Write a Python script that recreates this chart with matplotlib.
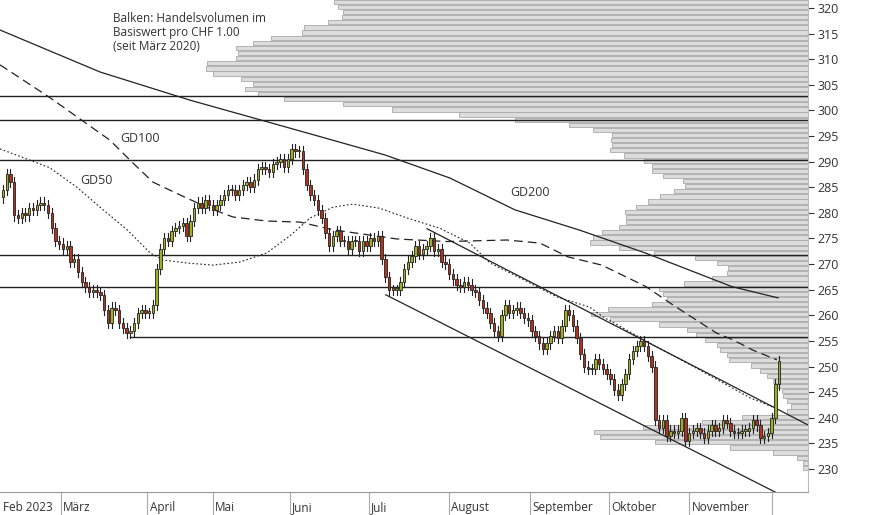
import matplotlib
matplotlib.use("Agg")
import matplotlib.pyplot as plt
import matplotlib.transforms as mtrans
import numpy as np

plt.rcParams['font.family'] = ['Open Sans', 'DejaVu Sans']

closes = [284.5,287.5,286,279.5,279,280,279.5,281,280.5,281.5,
          282,281.5,280,277,274.5,274,273,273.5,270.5,271,
          268.5,266.5,265.5,264.5,265,264.5,264,261,258.5,261.5,
          261,258.5,257.5,256.5,257,258.5,260.5,261,260.5,260.5,
          262,269,273,275,274.5,276.5,277,277.5,278,275.5,
          278.5,281,282,281,282.5,281.5,280.5,281.5,282.5,283.5,
          284.5,284.5,283.5,284.5,285.5,286,285,286.5,288.5,289,
          288.5,288,289.5,290,290.5,289,290.5,292.5,292,292,
          288.5,285.5,283.5,282.5,280.5,279,276,273.5,275.5,276.5,
          274.5,274.5,273,274.5,274.5,272.5,274.5,273.5,275,274.5,
          275.5,271,267.5,265,265,265,266.5,269,270.5,271.5,
          273.5,272,273,273.5,275,272.5,273,270.5,270,268,
          267,266,265.5,266.5,266,265,264.5,263,261.5,260.5,
          258.5,257,256,260,262,260.5,261,261.5,260.5,259.5,
          259,257,256,254.5,253.5,254.5,256,257,255.5,258,
          261,260,258,255.5,252.5,250,249.5,249.5,251.5,250.5,
          249.5,248.5,247.5,245.5,244.5,246.5,248.5,251.5,253,254,
          255,254,252,250,239.5,238,239.5,236.5,237.5,237,
          237.5,240,235.5,237,237.5,238,237,236,237.5,238.5,
          237.5,238,239.5,239,237.5,237,237,237.5,237.5,238,
          239.5,238.5,236,236.5,237,240,246.5,251]
first_open = 283.0

month_labels = ["Feb 2023","März","April","Mai","Juni","Juli","August","September","Oktober","November"]
month_starts = [-0.5,15.5,38.5,56,76.5,97.5,119,140.5,161.5,183]
extra_sep = [205]

gd200_x = [-0.8,25.9,49.9,84.5,101.9,119.2,136.5,153.9,171.2,194.4,206.7]
gd200_y = [315.7,307.5,302,294.9,291.3,286.8,280.6,276.6,272.2,265.6,263.4]
gd100_x = [-0.8,12.5,28.5,34.7,40,47.2,54.4,61.3,70.4,79.2,88,105.1,118.4,134.4,143.2,150.7,159.7,171.5,177.9,184,190.4,194.7,200,206.4]
gd100_y = [308.9,302.5,294.2,289.7,286,283.5,281.1,279.2,278.4,278.2,276.7,274.9,274.4,274.7,274.1,271.4,269.8,265.6,262.4,259.5,256.5,255.2,253.2,251.3]
gd50_x = [-0.8,12.5,19.7,25.9,33.1,39.2,42.7,49.1,56,63.2,70.4,76.5,81.9,88,93.3,100.5,107.7,116.5,124.5,129.9,137.9,147.7,156.5,160,172.5,185.9,199.2,205.3]
gd50_y = [292.5,288.8,285,281.1,276.7,272.2,270.8,270.2,269.8,270.4,272.2,275.5,279,281.1,281.7,280.9,279,277,274.1,270.2,267.3,263.6,261.6,259.7,254.6,249.3,243.9,242.1]

hlines = [302.8,298.1,290.3,271.8,265.5]
support_level = 255.8
support_start = 33.9
channel_upper_x = [113.1,214.7]
channel_upper_y = [276.9,238.6]
channel_lower_x = [102.1,205.9]
channel_lower_y = [264.0,225.5]

profile_levels = list(range(321,229,-1))
profile_volume = [473.6,470,465,466,480,504,506,537,555,572,570,572,601,602,595,567,555,563,549.5,524,
                  464.5,415.5,349,292.7,239.4,215.5,195.6,197,196,198,184,164,156.5,156.5,145,125,122.7,134,148,160.5,
                  172,183.4,182,182,189.5,206,215.5,218,189.5,154,113,91,80,81,96,124.5,148.7,
                  144.7,140.7,156.3,199.7,217.3,198,148.7,121.3,112,102.7,91.3,88,81.3,78.7,57.3,48,41.3,35.3,31.3,26.3,25.3,
                  20.7,17.3,20.7,66.3,106.3,165.3,213.7,208,153,78,34.7,11.3,5.3,5.3]

fig = plt.figure(figsize=(8.74,5.15), dpi=100)
ax = fig.add_axes([0, 23/515, 808/874, 492/515])
XMIN, XMAX = -0.8, 214.7
ax.set_xlim(XMIN, XMAX)
ax.set_ylim(225.5, 321.56)
pxu = (XMAX-XMIN)/808.0

n = min(len(profile_levels), len(profile_volume))
w = np.array(profile_volume[:n])*pxu
ax.barh(np.array(profile_levels[:n])+0.2, w, left=XMAX-w, height=0.82,
        color='#dcdcdc', edgecolor='#a8a8a8', linewidth=0.6, zorder=1)

for h in hlines:
    ax.axhline(h, color='#222222', lw=1.0, zorder=2)
ax.plot([support_start, XMAX], [support_level]*2, color='#222222', lw=1.0, zorder=2)
ax.plot(channel_upper_x, channel_upper_y, color='#222222', lw=0.9, zorder=2)
ax.plot(channel_lower_x, channel_lower_y, color='#222222', lw=0.9, zorder=2)

ax.plot(gd200_x, gd200_y, color='#222222', lw=0.9, zorder=3)
ax.plot(gd100_x, gd100_y, color='#222222', lw=0.9, dashes=(7,4), zorder=3)
ax.plot(gd50_x, gd50_y, color='#222222', lw=0.8, dashes=(1.5,2), zorder=3)

opens = [first_open] + closes[:-1]
for i,(o,c) in enumerate(zip(opens, closes)):
    hi = max(o,c)+1.0; lo = min(o,c)-1.0
    ax.plot([i,i],[lo,hi], color='#222222', lw=0.8, zorder=4)
    col = '#9cb020' if c >= o else '#b3321f'
    ax.add_patch(plt.Rectangle((i-0.33, min(o,c)), 0.66, max(abs(c-o),0.25),
                 facecolor=col, edgecolor='#222222', lw=0.6, zorder=5))

ax.text(113/808, 1-12/492, "Balken: Handelsvolumen im\nBasiswert pro CHF 1.00\n(seit März 2020)",
        transform=ax.transAxes, fontsize=8.5, color='#333333', va='top', ha='left', linespacing=1.1)
ax.text(120/808, 1-138/492, "GD100", transform=ax.transAxes, fontsize=9, color='#333333', va='center')
ax.text(80/808, 1-180/492, "GD50", transform=ax.transAxes, fontsize=9, color='#333333', va='center')
ax.text(510/808, 1-192/492, "GD200", transform=ax.transAxes, fontsize=9, color='#333333', va='center')

for s in ['left','top']:
    ax.spines[s].set_visible(False)
ax.spines['right'].set_color('#bbbbbb')
ax.spines['bottom'].set_color('#999999')
ax.yaxis.tick_right()
ax.set_yticks(range(230,321,5))
ax.tick_params(axis='y', direction='out', length=4, colors='#333333', labelsize=9, pad=3)
ax.set_xticks(month_starts[1:]+extra_sep, ['']*(len(month_starts)-1+len(extra_sep)))
ax.tick_params(axis='x', direction='out', length=22, color='#aaaaaa')
trans = mtrans.blended_transform_factory(ax.transData, ax.transAxes)
for lab, pos in zip(month_labels, month_starts):
    ax.text(pos+0.6, -19/492, lab, fontsize=8.5, color='#333333', ha='left', va='baseline',
            transform=trans)

fig.savefig("out.png", dpi=100)
